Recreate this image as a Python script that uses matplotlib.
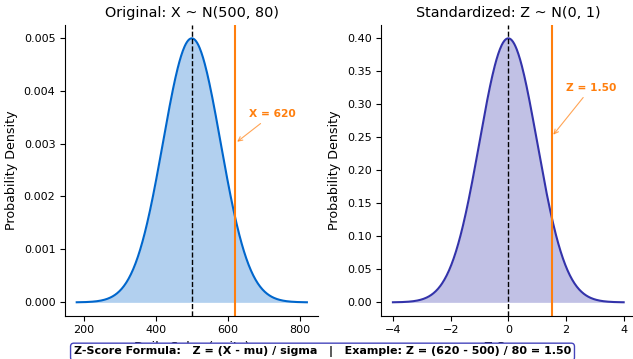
import numpy as np
import matplotlib
matplotlib.use("Agg")
from matplotlib import pyplot as plt
from matplotlib.ticker import MultipleLocator

# Distribution parameters
mu = 500
sigma = 80
x_obs = 620
z_obs = (x_obs - mu) / sigma

# Value ranges (mean +/- 4 sigma)
x_vals = np.linspace(mu - 4 * sigma, mu + 4 * sigma, 400)
z_vals = np.linspace(-4, 4, 400)


def normal_pdf(x, m, s):
    return np.exp(-0.5 * ((x - m) / s) ** 2) / (s * np.sqrt(2 * np.pi))


fig = plt.figure(figsize=(6.33, 3.59), dpi=100)
ax1 = fig.add_axes([0.103, 0.121, 0.400, 0.809])
ax2 = fig.add_axes([0.6025, 0.121, 0.401, 0.809])

orange = "#FF7F0E"

# Original distribution
y1 = normal_pdf(x_vals, mu, sigma)
ax1.plot(x_vals, y1, color="#0066CC", lw=1.5)
ax1.fill_between(x_vals, y1, color="#0066CC", alpha=0.3, lw=0)
ax1.axvline(mu, color="black", ls="--", lw=1)
ax1.axvline(x_obs, color=orange, lw=1.5)
ax1.annotate(f"X = {x_obs}", xy=(x_obs, 0.003), xytext=(x_obs + 40, 0.0035),
             color=orange, fontsize=7.7, fontweight="bold",
             arrowprops=dict(arrowstyle="->", color=orange, lw=0.8, alpha=0.7))
ax1.set_title(f"Original: X ~ N({mu}, {sigma})", fontsize=10.4)
ax1.set_xlabel("Daily Sales (units)", fontsize=9.1)
ax1.set_ylabel("Probability Density", fontsize=9.1)
ax1.xaxis.set_major_locator(MultipleLocator(200))

# Standardized distribution
y2 = normal_pdf(z_vals, 0, 1)
ax2.plot(z_vals, y2, color="#3333AA", lw=1.5)
ax2.fill_between(z_vals, y2, color="#3333AA", alpha=0.3, lw=0)
ax2.axvline(0, color="black", ls="--", lw=1)
ax2.axvline(z_obs, color=orange, lw=1.5)
ax2.annotate(f"Z = {z_obs:.2f}", xy=(z_obs, 0.25), xytext=(z_obs + 0.5, 0.32),
             color=orange, fontsize=7.7, fontweight="bold",
             arrowprops=dict(arrowstyle="->", color=orange, lw=0.8, alpha=0.7))
ax2.set_title("Standardized: Z ~ N(0, 1)", fontsize=10.4)
ax2.set_xlabel("Z Score", fontsize=9.1)
ax2.set_ylabel("Probability Density", fontsize=9.1)
ax2.xaxis.set_major_locator(MultipleLocator(2))

for ax in (ax1, ax2):
    ax.spines["top"].set_visible(False)
    ax.spines["right"].set_visible(False)
    ax.tick_params(labelsize=8)

fig.text(0.5095, 0.0195,
         f"Z-Score Formula:   Z = (X - mu) / sigma   |   Example: Z = ({x_obs} - {mu}) / {sigma} = {z_obs:.2f}",
         ha="center", va="center", fontsize=8, fontweight="bold",
         bbox=dict(boxstyle="round,pad=0.3", facecolor="white", edgecolor="#4444BB", lw=1))

fig.savefig("out.png", dpi=100)
